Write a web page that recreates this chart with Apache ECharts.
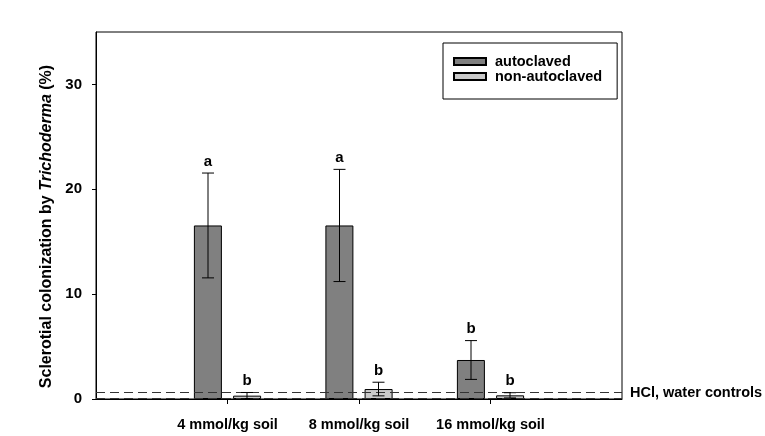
<!DOCTYPE html>
<html>
<head>
<meta charset="utf-8">
<script src="https://cdn.jsdelivr.net/npm/echarts@6/dist/echarts.min.js"></script>
<style>html,body{margin:0;padding:0;background:#fff}#c{width:765px;height:436px}</style>
</head>
<body>
<div id="c"></div>
<script>
var categories = ['', '4 mmol/kg soil', '8 mmol/kg soil', '16 mmol/kg soil', ''];
var autoclaved = [null, 16.55, 16.55, 3.72, null];
var autoclavedErr = [null, 5.0, 5.35, 1.85, null];
var autoclavedLetters = ['', 'a', 'a', 'b', ''];
var nonAutoclaved = [null, 0.32, 0.95, 0.35, null];
var nonAutoclavedErr = [null, 0.3, 0.65, 0.25, null];
var nonAutoclavedLetters = ['', 'b', 'b', 'b', ''];
var controlLevels = [0.6, 0.03];
var controlLabel = 'HCl, water controls';
var yTicks = [0, 10, 20, 30];

var FONT = 'Liberation Sans, Arial, sans-serif';
var BAR_W = 28, HALF_OFFSET = 19.5;

function errSeries(vals, errs, letters, offset) {
  var data = [];
  for (var i = 0; i < vals.length; i++) {
    if (vals[i] != null) data.push([i, vals[i], errs[i], letters[i]]);
  }
  return {
    type: 'custom',
    z: 10,
    silent: true,
    data: data,
    renderItem: function (params, api) {
      var c = api.value(0), v = api.value(1), e = api.value(2);
      var top = api.coord([c, v + e]);
      var bot = api.coord([c, Math.max(v - e, 0)]);
      var x = top[0] + offset;
      var cap = 6;
      var st = { stroke: '#000', lineWidth: 1 };
      return {
        type: 'group',
        children: [
          { type: 'line', shape: { x1: x, y1: top[1], x2: x, y2: bot[1] }, style: st },
          { type: 'line', shape: { x1: x - cap, y1: top[1], x2: x + cap, y2: top[1] }, style: st },
          { type: 'line', shape: { x1: x - cap, y1: bot[1], x2: x + cap, y2: bot[1] }, style: st },
          { type: 'text', x: x, y: top[1] - 4, style: { text: letters[c], fill: '#000', font: 'bold 15px ' + FONT, align: 'center', verticalAlign: 'bottom' } }
        ]
      };
    }
  };
}

var chart = echarts.init(document.getElementById('c'));
chart.setOption({
  animation: false,
  backgroundColor: '#fff',
  grid: { left: 96, right: 143, top: 32, bottom: 37, show: true, borderColor: '#000', borderWidth: 1 },
  legend: {
    orient: 'vertical',
    left: 443, top: 43,
    padding: [11, 15, 15, 10],
    itemGap: 0,
    itemWidth: 32, itemHeight: 7,
    borderColor: '#000', borderWidth: 1,
    icon: 'rect',
    textStyle: { fontFamily: FONT, fontWeight: 'bold', fontSize: 14.5, color: '#000', lineHeight: 14, padding: [0, 0, 0, 4] },
    data: ['autoclaved', 'non-autoclaved']
  },
  xAxis: {
    type: 'category',
    data: categories,
    boundaryGap: false,
    axisLine: { lineStyle: { color: '#000', width: 1 } },
    axisTick: { show: true, length: 5, lineStyle: { color: '#000' }, interval: function (i) { return i >= 1 && i <= 3; } },
    axisLabel: { color: '#000', fontFamily: FONT, fontWeight: 'bold', fontSize: 14.5, margin: 18, interval: 0 },
    splitLine: { show: false }
  },
  yAxis: {
    type: 'value',
    min: 0, max: 35, interval: 10,
    name: 'Sclerotial colonization by {i|Trichoderma} (%)',
    nameLocation: 'middle',
    nameGap: 40,
    nameTextStyle: {
      fontFamily: FONT, fontWeight: 'bold', fontSize: 16, color: '#000',
      padding: [0, 22, 0, 0],
      rich: { i: { fontFamily: FONT, fontWeight: 'bold', fontStyle: 'italic', fontSize: 16, color: '#000' } }
    },
    axisLine: { show: true, lineStyle: { color: '#000' } },
    axisTick: { show: true, length: 4, lineStyle: { color: '#000' }, customValues: yTicks },
    axisLabel: { color: '#000', fontFamily: FONT, fontWeight: 'bold', fontSize: 15, margin: 14, customValues: yTicks },
    splitLine: { show: false }
  },
  series: [
    {
      name: 'autoclaved', type: 'bar', data: autoclaved,
      barWidth: BAR_W, barGap: '40%',
      itemStyle: { color: '#808080', borderColor: '#000', borderWidth: 1 },
      markLine: {
        silent: true, symbol: 'none',
        lineStyle: { color: '#333', type: [9, 5], width: 1.2 },
        label: { show: false },
        data: [
          { yAxis: controlLevels[0], label: { show: true, position: 'end', distance: 8, formatter: controlLabel, color: '#000', fontFamily: FONT, fontWeight: 'bold', fontSize: 14.5 } },
          { yAxis: controlLevels[1] }
        ]
      }
    },
    {
      name: 'non-autoclaved', type: 'bar', data: nonAutoclaved,
      barWidth: BAR_W, barGap: '40%',
      itemStyle: { color: '#cacaca', borderColor: '#000', borderWidth: 1 }
    },
    errSeries(autoclaved, autoclavedErr, autoclavedLetters, -HALF_OFFSET),
    errSeries(nonAutoclaved, nonAutoclavedErr, nonAutoclavedLetters, HALF_OFFSET)
  ]
});
</script>
</body>
</html>
